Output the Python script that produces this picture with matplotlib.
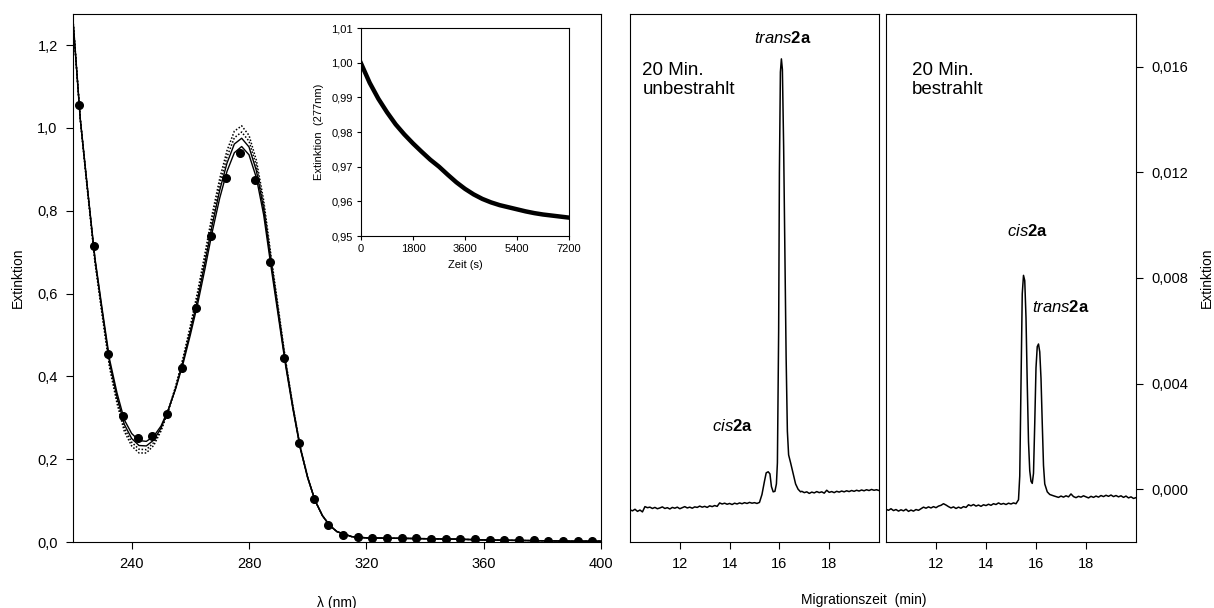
import matplotlib
matplotlib.use("Agg")
import matplotlib.pyplot as plt
from matplotlib.ticker import FuncFormatter

plt.rcParams['font.family'] = ['Liberation Sans', 'DejaVu Sans']
plt.rcParams['mathtext.fontset'] = 'custom'
plt.rcParams['mathtext.rm'] = 'Liberation Sans'
plt.rcParams['mathtext.it'] = 'Liberation Sans:italic'
plt.rcParams['mathtext.bf'] = 'Liberation Sans:bold'

# UV spectrum: measured points (dots)
lam_pts = [222, 227, 232, 237, 242, 247, 252, 257, 262, 267, 272, 277, 282, 287, 292,
           297, 302, 307, 312, 317, 322, 327, 332, 337, 342, 347, 352, 357, 362, 367,
           372, 377, 382, 387, 392, 397]
ext_pts = [1.055, 0.715, 0.455, 0.305, 0.25, 0.255, 0.31, 0.42, 0.565, 0.74, 0.88, 0.94,
           0.875, 0.675, 0.445, 0.24, 0.105, 0.042, 0.018, 0.011, 0.0098, 0.0095, 0.009,
           0.0085, 0.008, 0.0075, 0.007, 0.0062, 0.0055, 0.005, 0.0045, 0.004, 0.0035,
           0.003, 0.0028, 0.0025]

# fitted / reference spectra (lines)
lam_fit = [220, 222.5, 225, 227.5, 230, 232.5, 235, 237.5, 240, 242.5, 245, 247.5, 250,
           252.5, 255, 257.5, 260, 262.5, 265, 267.5, 270, 272.5, 275, 277.5, 280, 282.5,
           285, 287.5, 290, 292.5, 295, 297.5, 300, 302.5, 305, 307.5, 310, 315, 320, 330,
           340, 350, 360, 370, 380, 390, 400]
sol_lo = [1.26, 1.02, 0.85, 0.685, 0.56, 0.44, 0.36, 0.295, 0.262, 0.245, 0.243, 0.255,
          0.28, 0.32, 0.37, 0.43, 0.50, 0.575, 0.66, 0.75, 0.83, 0.895, 0.94, 0.955, 0.935,
          0.88, 0.79, 0.665, 0.545, 0.425, 0.32, 0.225, 0.155, 0.10, 0.064, 0.04, 0.025,
          0.013, 0.01, 0.009, 0.008, 0.007, 0.005, 0.004, 0.003, 0.002, 0.002]
sol_hi = [1.26, 1.02, 0.848, 0.681, 0.554, 0.432, 0.35, 0.284, 0.25, 0.233, 0.232, 0.246,
          0.275, 0.319, 0.372, 0.436, 0.509, 0.587, 0.675, 0.767, 0.849, 0.915, 0.961,
          0.975, 0.954, 0.897, 0.804, 0.676, 0.553, 0.43, 0.323, 0.227, 0.156, 0.10, 0.064,
          0.04, 0.025, 0.013, 0.01, 0.009, 0.008, 0.007, 0.005, 0.004, 0.003, 0.002, 0.002]
dot_in = [1.26, 1.02, 0.846, 0.678, 0.55, 0.426, 0.342, 0.275, 0.241, 0.224, 0.223, 0.24,
          0.272, 0.318, 0.374, 0.44, 0.515, 0.596, 0.686, 0.78, 0.863, 0.93, 0.976, 0.99,
          0.968, 0.909, 0.815, 0.684, 0.559, 0.434, 0.326, 0.228, 0.156, 0.101, 0.064,
          0.04, 0.025, 0.013, 0.01, 0.009, 0.008, 0.007, 0.005, 0.004, 0.003, 0.002, 0.002]
dot_out = [1.26, 1.02, 0.845, 0.675, 0.545, 0.42, 0.335, 0.267, 0.232, 0.215, 0.215, 0.233,
           0.268, 0.317, 0.376, 0.444, 0.522, 0.605, 0.697, 0.793, 0.877, 0.945, 0.992,
           1.005, 0.982, 0.922, 0.825, 0.692, 0.565, 0.438, 0.328, 0.229, 0.157, 0.101,
           0.064, 0.04, 0.025, 0.013, 0.01, 0.009, 0.008, 0.007, 0.005, 0.004, 0.003,
           0.002, 0.002]

# inset: extinction at 277 nm vs time
t_kin = [0, 300, 600, 900, 1200, 1500, 1800, 2100, 2400, 2700, 3000, 3300, 3600, 3900,
         4200, 4500, 4800, 5100, 5400, 5700, 6000, 6300, 6600, 6900, 7200]
e_kin = [0.9998, 0.9942, 0.9896, 0.9857, 0.9822, 0.9793, 0.9767, 0.9743, 0.9720, 0.9700,
         0.9677, 0.9655, 0.9636, 0.9620, 0.9607, 0.9597, 0.9589, 0.9583, 0.9577, 0.9571,
         0.9566, 0.9562, 0.9559, 0.9556, 0.9553]

# electropherograms
t_un = [10.0, 10.1, 10.2, 10.3, 10.4, 10.5, 10.6, 10.7, 10.8, 10.9, 11.0, 11.1, 11.2, 11.3,
        11.4, 11.5, 11.6, 11.7, 11.8, 11.9, 12.0, 12.1, 12.2, 12.3, 12.4, 12.5, 12.6, 12.7,
        12.8, 12.9, 13.0, 13.1, 13.2, 13.3, 13.4, 13.5, 13.6, 13.7, 13.8, 13.9, 14.0, 14.1,
        14.2, 14.3, 14.4, 14.5, 14.6, 14.7, 14.8, 14.9, 15.0, 15.1, 15.2,
        15.3, 15.4, 15.47, 15.55, 15.62, 15.68, 15.75, 15.82, 15.88, 15.92, 15.97, 16.0,
        16.04, 16.08, 16.12, 16.17, 16.22, 16.27, 16.32, 16.37, 16.45, 16.55, 16.65, 16.75,
        16.85, 16.9, 17.0, 17.1, 17.2, 17.3, 17.4, 17.5, 17.6, 17.7, 17.8, 17.9, 18.0, 18.1,
        18.2, 18.3, 18.4, 18.5, 18.6, 18.7, 18.8, 18.9, 19.0, 19.1, 19.2, 19.3, 19.4, 19.5,
        19.6, 19.7, 19.8, 19.9, 20.0]
a_un = [-0.00078, -0.00082, -0.00076, -0.00084, -0.00079, -0.00086, -0.00066, -0.00070,
        -0.00068, -0.00073, -0.00069, -0.00074, -0.00071, -0.00067, -0.00073, -0.00070,
        -0.00075, -0.00069, -0.00072, -0.00068, -0.00074, -0.00070, -0.00066, -0.00071,
        -0.00068, -0.00072, -0.00067, -0.00069, -0.00064, -0.00068, -0.00065, -0.00069,
        -0.00063, -0.00066, -0.00062, -0.00065, -0.00052, -0.00056, -0.00053, -0.00057,
        -0.00054, -0.00058, -0.00053, -0.00056, -0.00052, -0.00055, -0.00051, -0.00054,
        -0.00050, -0.00053, -0.00051, -0.00054, -0.00050,
        -0.0002, 0.0003, 0.00062, 0.00066, 0.00058, 0.0001, -0.0001, -0.00008, 0.0002,
        0.001, 0.006, 0.012, 0.0158, 0.0163, 0.0159, 0.013, 0.009, 0.005, 0.0022, 0.0013,
        0.001, 0.0006, 0.0002, 0.0, -0.0001, -0.00008, -0.00013, -0.0001, -0.00016,
        -0.00011, -0.00014, -0.00009, -0.00013, -0.0001, -0.00015, -0.00004, -0.00012,
        -0.00009, -0.00013, -0.00008, -0.00011, -0.00007, -0.0001, -0.00006, -0.00009,
        -0.00005, -0.00008, -0.00004, -0.00007, -0.00003, -0.00006, -0.00002, -0.00005,
        -0.00001, -0.00004, -0.00002, -0.00005]

t_be = [10.0, 10.1, 10.2, 10.3, 10.4, 10.5, 10.6, 10.7, 10.8, 10.9, 11.0, 11.1, 11.2, 11.3,
        11.4, 11.5, 11.6, 11.7, 11.8, 11.9, 12.0, 12.1, 12.2, 12.3, 12.4, 12.5, 12.6, 12.7,
        12.8, 12.9, 13.0, 13.1, 13.2, 13.3, 13.4, 13.5, 13.6, 13.7, 13.8, 13.9, 14.0, 14.1,
        14.2, 14.3, 14.4, 14.5, 14.6, 14.7, 14.8, 14.9, 15.0, 15.1, 15.2,
        15.3, 15.35, 15.4, 15.45, 15.5, 15.55, 15.6, 15.65, 15.7, 15.75, 15.8, 15.85, 15.9,
        15.95, 16.0, 16.05, 16.1, 16.15, 16.2, 16.25, 16.3, 16.35, 16.45, 16.55, 16.7,
        16.8, 16.9, 17.0, 17.1, 17.2, 17.3, 17.4, 17.5, 17.6, 17.7, 17.8, 17.9, 18.0, 18.1,
        18.2, 18.3, 18.4, 18.5, 18.6, 18.7, 18.8, 18.9, 19.0, 19.1, 19.2, 19.3, 19.4, 19.5,
        19.6, 19.7, 19.8, 19.9, 20.0]
a_be = [-0.00076, -0.0008, -0.00074, -0.00081, -0.00077, -0.00083, -0.00078, -0.00082,
        -0.00076, -0.00084, -0.00079, -0.00083, -0.00077, -0.0008, -0.00074, -0.00068,
        -0.00072, -0.00067, -0.00071, -0.00066, -0.0007, -0.00064, -0.00061, -0.00055,
        -0.0006, -0.00066, -0.00071, -0.00067, -0.00073, -0.00068, -0.00072, -0.00066,
        -0.00069, -0.00059, -0.00063, -0.00058, -0.00064, -0.0006, -0.00065, -0.00059,
        -0.00062, -0.00057, -0.00061, -0.00055, -0.00058, -0.00052, -0.00057, -0.00054,
        -0.00058, -0.00053, -0.00056, -0.00052, -0.00055,
        -0.0004, 0.0005, 0.004, 0.0074, 0.0081, 0.0079, 0.0065, 0.004, 0.0018, 0.0007,
        0.0003, 0.00022, 0.0006, 0.0025, 0.0046, 0.0054, 0.0055, 0.0052, 0.0042, 0.0025,
        0.0009, 0.0002, -0.0001, -0.0002, -0.00025, -0.00028, -0.00031, -0.00026, -0.0003,
        -0.00025, -0.00029, -0.00018, -0.00028, -0.00032, -0.00027, -0.0003, -0.00025,
        -0.00029, -0.00033, -0.00027, -0.00031, -0.00026, -0.0003, -0.00024, -0.00028,
        -0.00023, -0.00027, -0.00022, -0.00028, -0.00024, -0.00029, -0.00025, -0.00031,
        -0.00026, -0.00033, -0.00029, -0.00035, -0.00032]

spec_xticks = [240, 280, 320, 360, 400]
spec_yticks = [0.0, 0.2, 0.4, 0.6, 0.8, 1.0, 1.2]
kin_xticks = [0, 1800, 3600, 5400, 7200]
kin_yticks = [0.95, 0.96, 0.97, 0.98, 0.99, 1.00, 1.01]
ce_xticks = [12, 14, 16, 18]
ce_yticks = [0.000, 0.004, 0.008, 0.012, 0.016]


def comma(fmt):
    return FuncFormatter(lambda v, p: format(v, fmt).replace('.', ','))


fig = plt.figure(figsize=(12.14, 6.08), dpi=100)
W, H = 1214, 608


def box(l, t, r, b):
    return [l / W, 1 - b / H, (r - l) / W, (b - t) / H]


# --- main spectrum ---
ax = fig.add_axes(box(73, 14, 601, 542))
ax.plot(lam_fit, dot_out, color='black', lw=1.1, ls=(0, (1, 1.2)))
ax.plot(lam_fit, dot_in, color='black', lw=1.1, ls=(0, (1, 1.2)))
ax.plot(lam_fit, sol_hi, color='black', lw=1.0)
ax.plot(lam_fit, sol_lo, color='black', lw=1.0)
ax.plot(lam_pts, ext_pts, 'o', color='black', ms=5.5, zorder=5)
ax.set_xlim(220, 400)
ax.set_ylim(0, 1.275)
ax.set_xticks(spec_xticks)
ax.set_yticks(spec_yticks)
ax.yaxis.set_major_formatter(comma('.1f'))
ax.tick_params(direction='out', length=5, labelsize=10.5, pad=6)
fig.text(18 / W, 0.543, 'Extinktion', rotation=90, ha='center', va='center', fontsize=10)
fig.text(337 / W, 0.008, 'λ (nm)', ha='center', va='center', fontsize=10)

# --- inset kinetics ---
axi = fig.add_axes(box(361, 28, 569, 236))
axi.plot(t_kin, e_kin, color='black', lw=3.2)
axi.set_xlim(0, 7200)
axi.set_ylim(0.95, 1.01)
axi.set_xticks(kin_xticks)
axi.set_yticks(kin_yticks)
axi.yaxis.set_major_formatter(comma('.2f'))
axi.tick_params(direction='out', length=3, labelsize=8, pad=3)
axi.set_xlabel('Zeit (s)', fontsize=8, labelpad=4)
axi.set_ylabel('Extinktion  (277nm)', fontsize=8, labelpad=5)

# --- electropherograms ---
ax1 = fig.add_axes(box(630, 14, 879, 542))
ax2 = fig.add_axes(box(886, 14, 1136, 542))
ax1.plot(t_un, a_un, color='black', lw=1.1)
ax2.plot(t_be, a_be, color='black', lw=1.1)
for a in (ax1, ax2):
    a.set_xlim(10, 20)
    a.set_ylim(-0.002, 0.018)
    a.set_xticks(ce_xticks)
    a.tick_params(direction='out', length=5, labelsize=10.5, pad=6)
ax1.tick_params(axis='y', left=False, labelleft=False)
ax2.yaxis.tick_right()
ax2.set_yticks(ce_yticks)
ax2.yaxis.set_major_formatter(comma('.3f'))

ax1.text(10.5, 0.0162, '20 Min.\nunbestrahlt', fontsize=13.5, va='top', ha='left')
ax2.text(11.05, 0.0162, '20 Min.\nbestrahlt', fontsize=13.5, va='top', ha='left')
ax1.text(16.13, 0.0169, r'$\mathit{trans}\mathbf{2a}$', fontsize=12, ha='center')
ax1.text(14.12, 0.0022, r'$\mathit{cis}\mathbf{2a}$', fontsize=12, ha='center')
ax2.text(15.66, 0.0096, r'$\mathit{cis}\mathbf{2a}$', fontsize=12, ha='center')
ax2.text(17.0, 0.0067, r'$\mathit{trans}\mathbf{2a}$', fontsize=12, ha='center')

fig.text(1207 / W, 0.543, 'Extinktion', rotation=90, ha='center', va='center', fontsize=10)
fig.text(864 / W, 0.013, 'Migrationszeit  (min)', ha='center', va='center', fontsize=10)

fig.savefig('out.png', dpi=100)
